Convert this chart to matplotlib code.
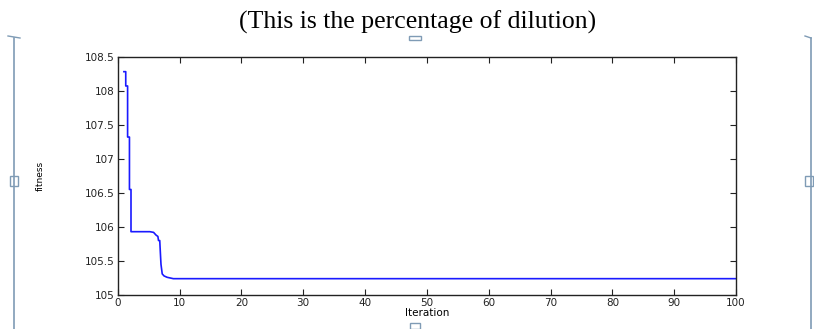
import matplotlib
matplotlib.use('Agg')
import matplotlib.pyplot as plt
from matplotlib.lines import Line2D
import numpy as np

# best fitness per iteration (step-wise decreasing)
iteration = [1.0, 1.3, 1.3, 1.6, 1.6, 1.9, 1.9, 2.15, 2.15, 5.2, 5.8, 6.2,
             6.5, 6.6, 6.8, 6.9, 7.0, 7.2, 7.5, 8.0, 9.0, 100.0]
fitness = [108.28, 108.28, 108.07, 108.07, 107.32, 107.32, 106.55, 106.55, 105.93, 105.93, 105.92, 105.88,
           105.86, 105.80, 105.80, 105.62, 105.45, 105.31, 105.28, 105.26, 105.24, 105.24]

xticks = np.arange(0, 101, 10)
yticks = np.arange(105, 108.51, 0.5)
ytick_labels = ['105', '105.5', '106', '106.5', '107', '107.5', '108', '108.5']

fig = plt.figure(figsize=(8.14, 3.29), dpi=100)
fig.patch.set_facecolor('white')

ax = fig.add_axes([0.1446, 0.1033, 0.7596, 0.7244])
ax.plot(iteration, fitness, color='#1a1aff', lw=1.2)

ax.set_xlim(0, 100)
ax.set_ylim(105, 108.5)
ax.set_xticks(xticks)
ax.set_yticks(yticks)
ax.set_yticklabels(ytick_labels)
ax.tick_params(direction='in', top=True, right=True, length=4, width=0.8,
               labelsize=7.5, colors='#222222', pad=2)
for s in ax.spines.values():
    s.set_linewidth(1.0)
    s.set_color('#222222')

ax.set_xlabel('Iteration', fontsize=7.5, labelpad=0)
ax.set_ylabel('fitness', fontsize=6.5)
ax.yaxis.set_label_coords(-0.118, 0.5)

fig.text(0.513, 0.933, '(This is the percentage of dilution)', ha='center', va='center',
         fontsize=18.5, family='Liberation Serif')

# frame handles around the embedded picture
fc = '#7f9bb5'
for x in (14 / 814, 811 / 814):
    fig.add_artist(Line2D([x, x], [0.0, 1 - 38 / 329], color=fc, lw=1.2, transform=fig.transFigure))
fig.add_artist(Line2D([8 / 814, 20 / 814], [1 - 36 / 329, 1 - 38 / 329], color=fc, lw=1.0, transform=fig.transFigure))
fig.add_artist(Line2D([805 / 814, 811 / 814], [1 - 36 / 329, 1 - 38 / 329], color=fc, lw=1.0, transform=fig.transFigure))
fig.add_artist(plt.Rectangle((10 / 814, 1 - 186 / 329), 8 / 814, 10 / 329, fill=False, ec=fc, lw=1.0,
                             transform=fig.transFigure))
fig.add_artist(plt.Rectangle((805 / 814, 1 - 186 / 329), 8 / 814, 10 / 329, fill=False, ec=fc, lw=1.0,
                             transform=fig.transFigure))
fig.add_artist(plt.Rectangle((409 / 814, 1 - 40 / 329), 12 / 814, 4 / 329, fill=False, ec=fc, lw=1.0,
                             transform=fig.transFigure))
fig.add_artist(plt.Rectangle((410 / 814, 1 - 329 / 329), 10 / 814, 6 / 329, fill=False, ec=fc, lw=1.0,
                             transform=fig.transFigure))

fig.savefig('out.png', dpi=100)
